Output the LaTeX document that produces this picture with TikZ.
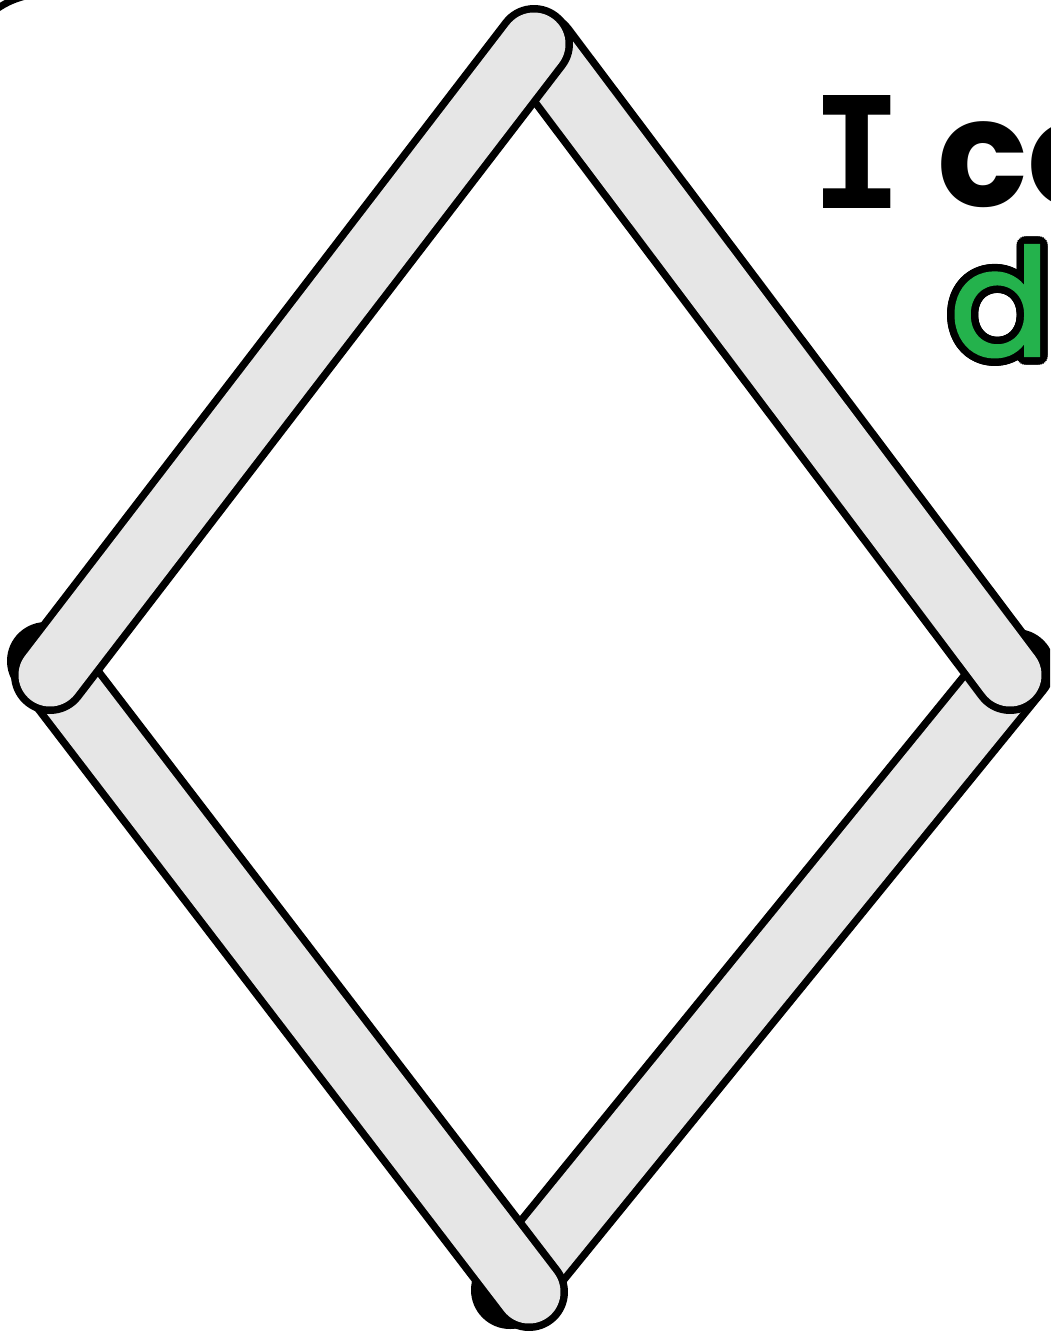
\documentclass[tikz,border=0pt]{standalone}
\usepackage{fontspec}
\newfontfamily\monob{DejaVu Sans Mono}
\newfontfamily\popb{Poppins}
\newfontfamily\popm{Poppins}[FakeBold=1.5]
\definecolor{stickgray}{RGB}{230,230,230}
\definecolor{dgreen}{RGB}{36,178,76}
\tikzset{
  stickout/.style={line width=78pt, line cap=round, draw=black},
  stickin/.style={line width=63pt, line cap=round, draw=stickgray},
  bigmono/.style={inner sep=0pt, font=\monob\bfseries\fontsize{155}{160}\selectfont},
  bigpop/.style={inner sep=0pt, font=\popb\bfseries\fontsize{150}{150}\selectfont},
  bigpopr/.style={inner sep=0pt, font=\popm\fontsize{150}{150}\selectfont},
}
\begin{document}
\begin{tikzpicture}[x=1pt,y=-1pt]
\useasboundingbox (0,0) rectangle (1050,1331);
\clip (0,0) rectangle (1050,1331);
\fill[white] (0,0) rectangle (1050,1331);
% frame corner
\draw[line width=7pt] (-38,300) -- (-38,76) arc (180:270:82) -- (400,-6);
% stick end points
\coordinate (aT) at (534,44);
\coordinate (aL) at (50,675);
\coordinate (bT) at (540,50);
\coordinate (bR) at (1010,675);
\coordinate (cR) at (1016,668);
\coordinate (cB) at (510,1290);
\coordinate (dL) at (46,661);
\coordinate (dB) at (529,1292);
% sticks, lowest first (hidden ends show only black)
\draw[stickout] (cR) -- (cB); \draw[stickin, shorten <=9pt, shorten >=9pt] (cR) -- (cB);
\draw[stickout] (dL) -- (dB); \draw[stickin, shorten <=9pt] (dL) -- (dB);
\draw[stickout] (bT) -- (bR); \draw[stickin, shorten <=9pt] (bT) -- (bR);
\draw[stickout] (aT) -- (aL); \draw[stickin] (aT) -- (aL);
% text
\node[bigmono, anchor=base] (tI) at (857,208) {I};
\node[bigpop, anchor=base west] (tco) at (937,206) {co};
\foreach \a in {0,15,...,345}{
  \node[bigpopr, anchor=base west, text=black, xshift={7.5pt*cos(\a)}, yshift={7.5pt*sin(\a)}] (dO\a) at (949,356) {di};
}
\node[bigpopr, anchor=base west, text=dgreen] (tdi) at (949,356) {di};
\end{tikzpicture}
\end{document}
